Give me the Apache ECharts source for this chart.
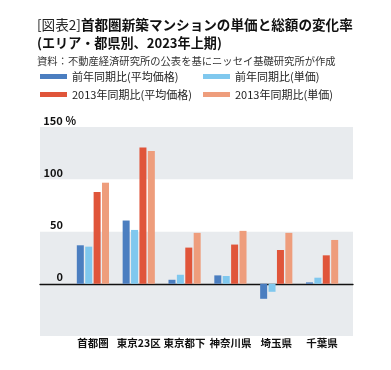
<!DOCTYPE html>
<html><head><meta charset="utf-8">
<script src="https://cdn.jsdelivr.net/npm/echarts@6/dist/echarts.min.js"></script>
<style>html,body{margin:0;padding:0;background:#fff}#c{width:391px;height:370px}</style>
</head><body><div id="c"></div>
<script>
const categories = ['首都圏','東京23区','東京都下','神奈川県','埼玉県','千葉県'];
const seriesNames = ['前年同期比(平均価格)','前年同期比(単価)','2013年同期比(平均価格)','2013年同期比(単価)'];
const yoyAvgPrice = [36.8, 60.5, 3.8, 8.0, -14.4, 1.3];
const yoyUnitPrice = [35.5, 51.5, 8.6, 7.4, -7.7, 5.8];
const vs2013AvgPrice = [87.8, 130.4, 34.6, 37.5, 32.3, 27.2];
const vs2013UnitPrice = [96.7, 127.0, 48.7, 50.6, 48.7, 41.9];
const yMin = -50, yMax = 150, yInterval = 50;
const yTickLabels = {'0':'0','50':'50','100':'100','150':'150'};
const colors = ['#4b7ec0','#80c8ee','#e0553a','#ee9d7c'];
const FONT = '"Noto Sans CJK JP", "Noto Sans", sans-serif';
const GRAY = '#e8ebee';

const chart = echarts.init(document.getElementById('c'), null, {renderer:'canvas'});
const seriesData = [yoyAvgPrice, yoyUnitPrice, vs2013AvgPrice, vs2013UnitPrice];
const option = {
  animation: false,
  textStyle: {fontFamily: FONT},
  title: {
    left: 37, top: 15, padding: 0,
    text: '{a|[図表2]}{b|首都圏新築マンションの単価と総額の変化率}\n{c|(エリア・都県別、2023年上期)}',
    textStyle: {
      fontFamily: FONT,
      rich: {
        a: {fontSize: 13.6, fontWeight: 'normal', color: '#222', lineHeight: 19, fontFamily: FONT},
        b: {fontSize: 13.6, fontWeight: 'bold', color: '#111', lineHeight: 19, fontFamily: FONT},
        c: {fontSize: 13.1, fontWeight: 'bold', color: '#111', lineHeight: 19, fontFamily: FONT}
      }
    },
    subtext: '資料：不動産経済研究所の公表を基にニッセイ基礎研究所が作成',
    subtextStyle: {fontSize: 10.3, color: '#333', lineHeight: 13, fontFamily: FONT},
    itemGap: 7
  },
  legend: [
    {left: 40, top: 70, padding: 0, orient: 'vertical', itemWidth: 27, itemHeight: 5, itemGap: 5, icon: 'rect',
     data: [seriesNames[0], seriesNames[2]],
     textStyle: {fontSize: 11, color: '#222', lineHeight: 13, fontFamily: FONT}},
    {left: 203, top: 70, padding: 0, orient: 'vertical', itemWidth: 27, itemHeight: 5, itemGap: 5, icon: 'rect',
     data: [seriesNames[1], seriesNames[3]],
     textStyle: {fontSize: 11, color: '#222', lineHeight: 13, fontFamily: FONT}}
  ],
  grid: [
    {left: 40, right: 38, top: 127, bottom: 34},
    {left: 70, right: 46, top: 127, bottom: 34}
  ],
  xAxis: [
    {gridIndex: 0, type: 'value', min: 0, max: 1,
     axisLine: {show: true, onZero: true, lineStyle: {color: '#111', width: 1.3}},
     axisTick: {show: false}, axisLabel: {show: false}, splitLine: {show: false}},
    {gridIndex: 1, type: 'category', data: categories,
     axisLine: {show: false, onZero: false}, axisTick: {show: false},
     axisLabel: {margin: 2, fontSize: 10.5, fontWeight: 'bold', color: '#111', fontFamily: FONT, interval: 0},
     splitLine: {show: false}}
  ],
  yAxis: [
    {gridIndex: 0, type: 'value', min: yMin, max: yMax, interval: yInterval,
     axisLine: {show: false}, axisTick: {show: false}, splitLine: {show: false},
     splitArea: {show: true, areaStyle: {color: [GRAY, GRAY, '#ffffff', GRAY]}},
     axisLabel: {
       inside: true, margin: 3, align: 'left', verticalAlign: 'bottom',
       fontSize: 11, fontWeight: 'bold', color: '#111', fontFamily: FONT,
       formatter: function (v) {
         const t = yTickLabels[String(v)];
         if (t === undefined) return '';
         return '{n|' + t + '}' + (v === yMax ? '{p| %}' : '');
       },
       rich: {
         n: {width: 20, align: 'right', fontSize: 11, fontWeight: 'bold', color: '#111', fontFamily: FONT, padding: [0,0,1,0]},
         p: {fontSize: 11, fontWeight: 'bold', color: '#111', fontFamily: FONT, padding: [0,0,1,0]}
       }
     }},
    {gridIndex: 1, type: 'value', min: yMin, max: yMax, interval: yInterval, show: false,
     splitLine: {show: false}}
  ],
  series: seriesNames.map((n, i) => ({
    name: n, type: 'bar', xAxisIndex: 1, yAxisIndex: 1,
    data: seriesData[i], barWidth: 7, barGap: '20%',
    itemStyle: {color: colors[i]}
  }))
};
chart.setOption(option);
</script></body></html>
